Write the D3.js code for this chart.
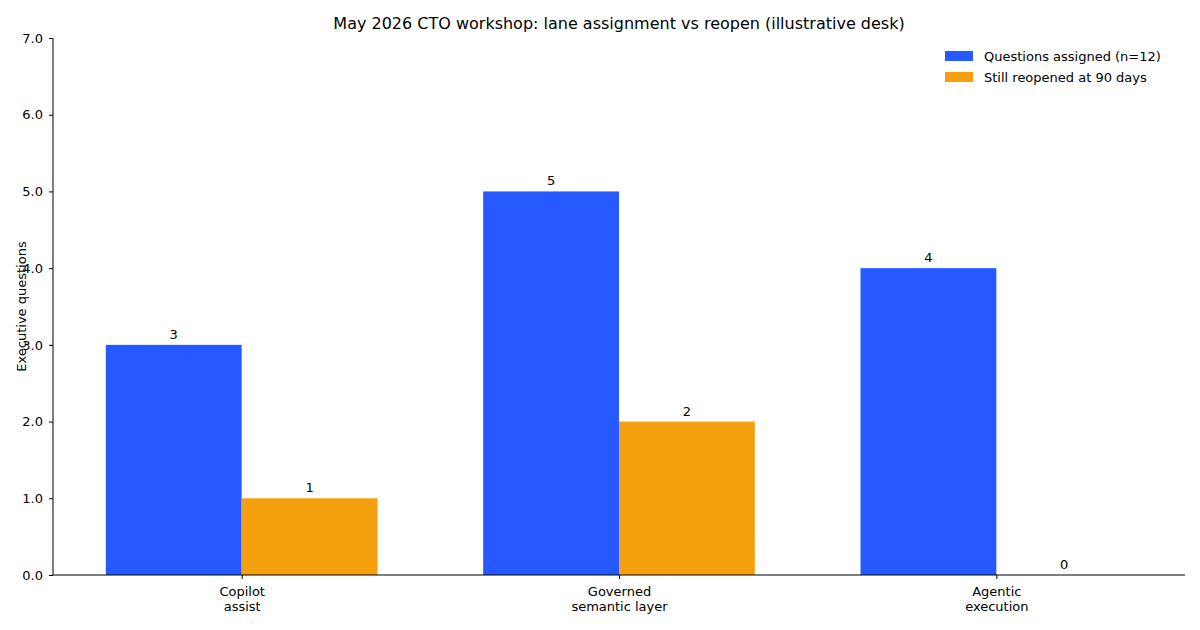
<html lang="en">
<head>
<script src="https://cdnjs.cloudflare.com/ajax/libs/d3/7.7.0/d3.min.js"></script>
<style>
html, body { margin: 0; background: #fff; }
text { font-family: 'DejaVu Sans', sans-serif; }
</style>
</head>
<body>
<svg width="1200" height="630"></svg>
<script>
const categories = [['Copilot', 'assist'], ['Governed', 'semantic layer'], ['Agentic', 'execution']];
const assigned = [3, 5, 4];
const reopened = [1, 2, 0];
const seriesNames = ['Questions assigned (n=12)', 'Still reopened at 90 days'];
const colors = ['#2659ff', '#f39f0e'];
const yTicks = [0, 1, 2, 3, 4, 5, 6, 7];

const svg = d3.select('svg');
const mLeft = 53, mRight = 1185, mTop = 38, mBottom = 575;
const barW = 0.36;

const x = d3.scaleLinear().domain([-0.5, 2.5]).range([mLeft, mRight]);
const y = d3.scaleLinear().domain([0, 7]).range([mBottom, mTop]);

const series = [assigned, reopened];
series.forEach((vals, s) => {
  const off = s === 0 ? -barW : 0;
  svg.selectAll('.bar' + s)
    .data(vals)
    .enter()
    .append('rect')
    .attr('x', (d, i) => x(i + off))
    .attr('width', x(barW) - x(0))
    .attr('y', d => y(d))
    .attr('height', d => y(0) - y(d))
    .attr('fill', colors[s]);
  svg.selectAll('.lbl' + s)
    .data(vals)
    .enter()
    .append('text')
    .attr('x', (d, i) => x(i + off + barW / 2))
    .attr('y', d => y(d) - 6)
    .attr('text-anchor', 'middle')
    .attr('font-size', 13)
    .text(d => d);
});

// axes
const yAxis = svg.append('g').attr('transform', `translate(${mLeft},0)`)
  .call(d3.axisLeft(y).tickValues(yTicks).tickSize(4).tickPadding(6));
yAxis.selectAll('text').attr('font-size', 13).attr('font-family', 'DejaVu Sans');

const xAxis = svg.append('g').attr('transform', `translate(0,${mBottom})`)
  .call(d3.axisBottom(x).tickValues([0, 1, 2]).tickSize(4).tickFormat(''));
xAxis.selectAll('.tick').append('text')
  .attr('fill', '#000').attr('font-size', 13).attr('text-anchor', 'middle')
  .selectAll('tspan')
  .data((d) => categories[d])
  .enter().append('tspan')
  .attr('x', 0).attr('y', (d, i) => 21 + i * 15)
  .text(d => d);
svg.selectAll('.domain').attr('stroke', '#000');
xAxis.select('.domain').attr('d', `M${mLeft},0H${mRight}`);
yAxis.select('.domain').attr('d', `M0,${mBottom}V${mTop}`);

svg.append('text').attr('x', 619).attr('y', 29).attr('text-anchor', 'middle')
  .attr('font-size', 16).text('May 2026 CTO workshop: lane assignment vs reopen (illustrative desk)');
svg.append('text').attr('transform', `translate(26,${(mTop + mBottom) / 2}) rotate(-90)`)
  .attr('text-anchor', 'middle').attr('font-size', 13).text('Executive questions');

// legend
seriesNames.forEach((n, i) => {
  svg.append('rect').attr('x', 945).attr('y', 51 + i * 21).attr('width', 28).attr('height', 10).attr('fill', colors[i]);
  svg.append('text').attr('x', 984).attr('y', 61 + i * 21).attr('font-size', 13).text(n);
});
</script>
</body>
</html>
